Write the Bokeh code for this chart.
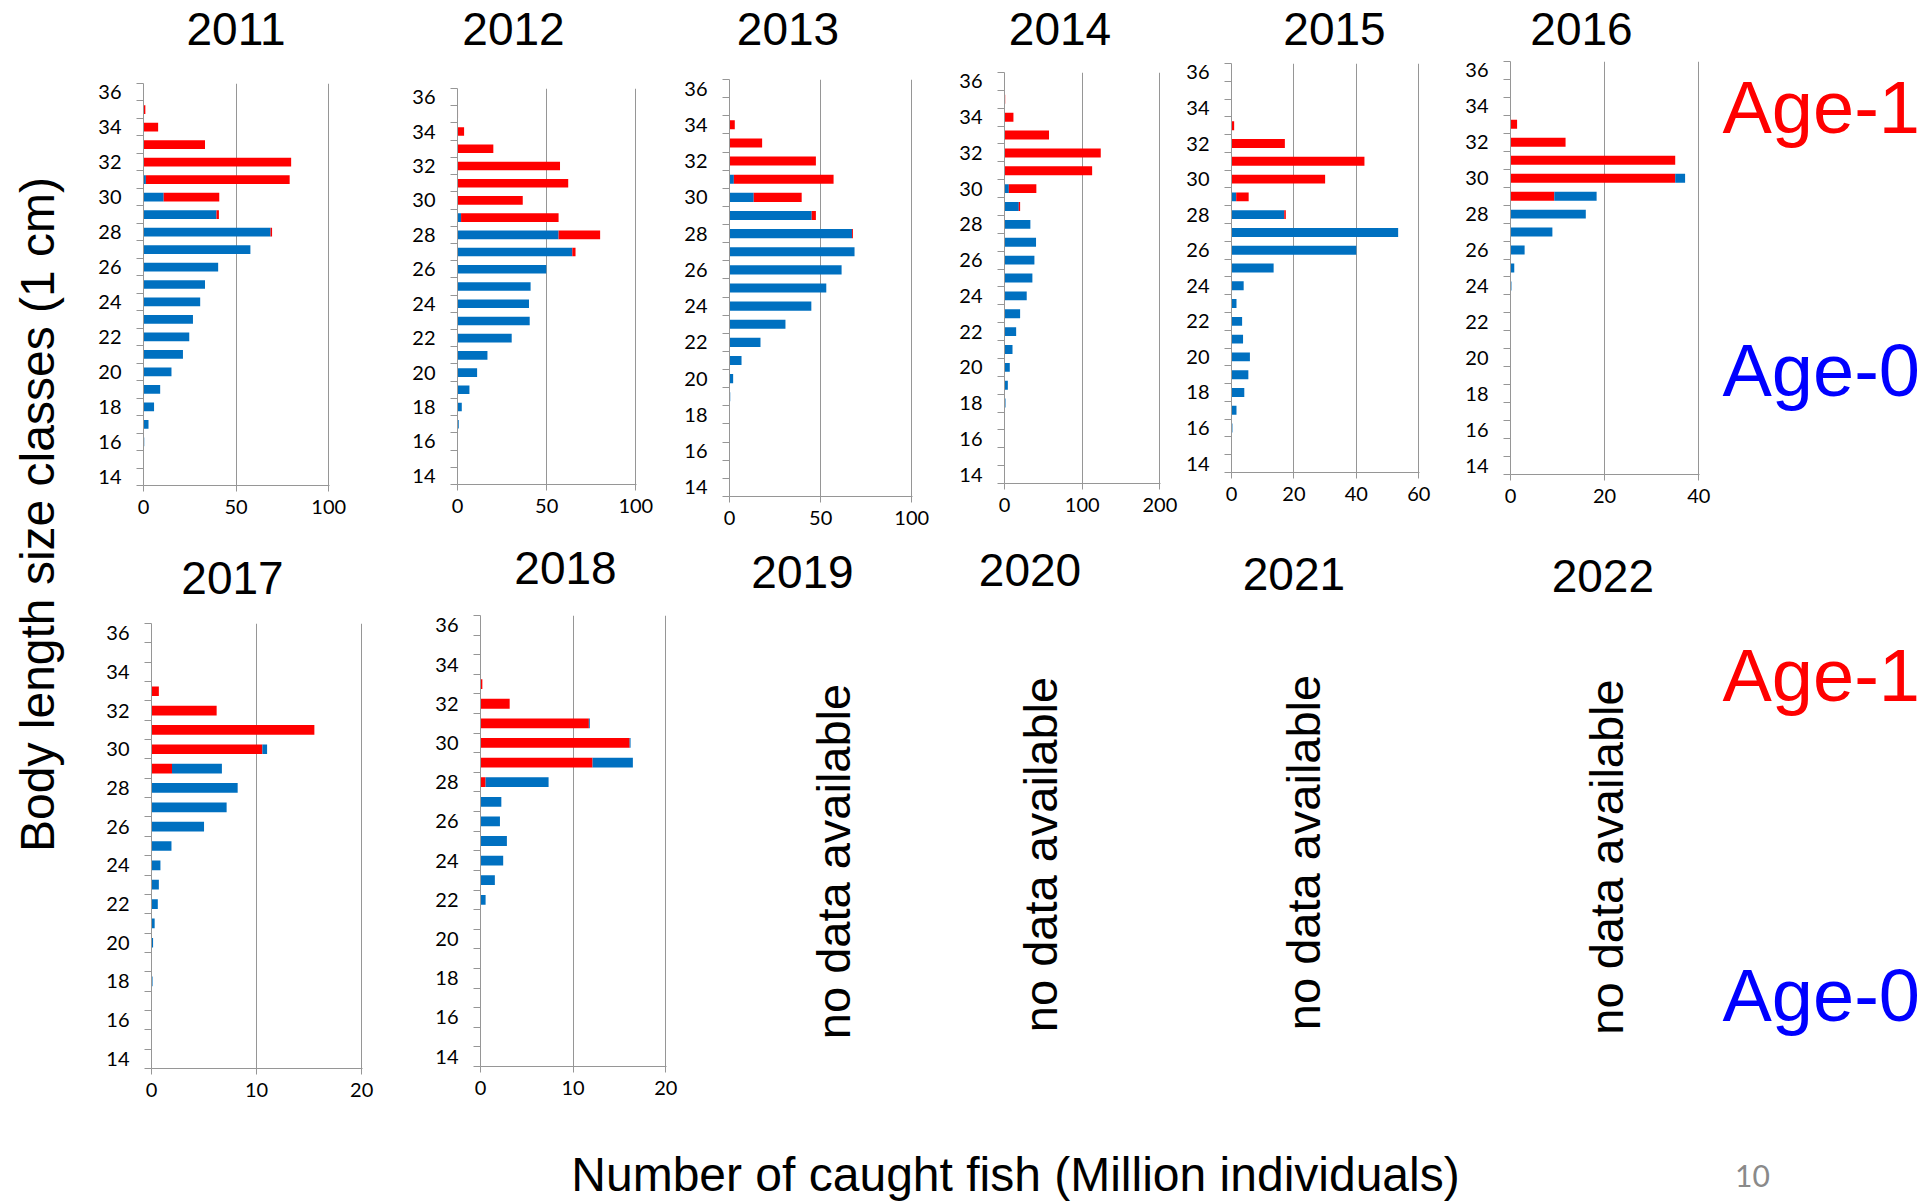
import math
from bokeh.plotting import figure
from bokeh.models import Range1d, FixedTicker, ColumnDataSource
from bokeh.layouts import row, column
from bokeh.embed import file_html
from bokeh.resources import INLINE
from bokeh.core.properties import value

# ---------------- data (million individuals per 1-cm size class 14..36) ----------------
size_classes = list(range(14, 37))
y_tick_labels = list(range(14, 37, 2))

age0_2011 = [0, 0, 0.4, 2.7, 5.7, 9.0, 15.1, 21.3, 24.7, 26.7, 30.6, 33.2, 40.3, 57.7, 68.6, 39.4, 10.9, 1.3, 0, 0, 0, 0, 0]
age1_2011 = [0, 0, 0, 0, 0, 0, 0, 0, 0, 0, 0, 0, 0, 0, 0.8, 1.3, 30.0, 77.6, 79.7, 33.2, 7.9, 1.0, 0]

age0_2012 = [0, 0, 0.2, 0.7, 2.4, 6.7, 11.0, 16.8, 30.4, 40.5, 40.1, 41.0, 49.8, 64.4, 56.7, 2.0, 0, 0, 0, 0, 0, 0, 0]
age1_2012 = [0, 0, 0, 0, 0, 0, 0, 0, 0, 0, 0, 0, 0, 1.8, 23.3, 54.7, 36.6, 62.1, 57.5, 20.1, 3.7, 0.3, 0.2]

age0_2013 = [0, 0, 0, 0, 0, 0.4, 2.0, 6.6, 17.0, 30.7, 44.9, 53.1, 61.5, 68.6, 67.2, 45.1, 13.3, 2.4, 0, 0, 0, 0, 0]
age1_2013 = [0, 0, 0, 0, 0, 0, 0, 0, 0, 0, 0, 0, 0, 0, 0.5, 2.3, 26.3, 54.7, 47.4, 17.9, 2.9, 0.2, 0]

age0_2014 = [0, 0, 0, 0, 1.3, 4.3, 6.8, 10.3, 15.0, 20.1, 28.6, 35.9, 38.5, 40.6, 33.3, 18.4, 5.6, 0, 0, 0, 0, 0, 0]
age1_2014 = [0, 0, 0, 0, 0, 0, 0, 0, 0, 0, 0, 0, 0, 0, 0, 1.7, 35.4, 112.8, 123.9, 57.3, 11.5, 0.9, 0.2]

age0_2015 = [0, 0, 0.3, 1.6, 4.1, 5.4, 5.9, 3.7, 3.4, 1.6, 3.9, 13.5, 40.0, 53.4, 16.9, 1.5, 0, 0, 0, 0, 0, 0, 0]
age1_2015 = [0, 0, 0, 0, 0, 0, 0, 0, 0, 0, 0, 0, 0, 0, 0.5, 4.0, 30.0, 42.6, 17.1, 0.85, 0, 0, 0]

age0_2016 = [0, 0, 0, 0, 0, 0, 0, 0, 0, 0, 0.2, 0.8, 3.0, 8.9, 16.0, 9.0, 2.1, 0, 0, 0, 0, 0, 0]
age1_2016 = [0, 0, 0, 0, 0, 0, 0, 0, 0, 0, 0, 0, 0, 0, 0, 9.3, 35.0, 35.0, 11.7, 1.4, 0.1, 0, 0]

age0_2017 = [0, 0, 0, 0, 0.1, 0, 0.15, 0.3, 0.6, 0.7, 0.85, 1.9, 5.0, 7.15, 8.2, 4.75, 0.45, 0, 0, 0, 0, 0, 0]
age1_2017 = [0, 0, 0, 0, 0, 0, 0, 0, 0, 0, 0, 0, 0, 0, 0, 1.95, 10.55, 15.5, 6.2, 0.7, 0, 0, 0]

age0_2018 = [0, 0, 0, 0, 0, 0, 0, 0, 0.55, 1.55, 2.45, 2.85, 2.1, 2.25, 6.8, 4.35, 0.1, 0.1, 0, 0, 0, 0, 0]
age1_2018 = [0, 0, 0, 0, 0, 0, 0, 0, 0, 0, 0, 0, 0, 0, 0.55, 12.1, 16.1, 11.7, 3.15, 0.2, 0, 0, 0]

xticks_100 = [0, 50, 100]
xticks_200 = [0, 100, 200]
xticks_60 = [0, 20, 40, 60]
xticks_40 = [0, 20, 40]
xticks_20 = [0, 10, 20]

top_years = ["2011", "2012", "2013", "2014", "2015", "2016"]
bottom_years = ["2017", "2018", "2019", "2020", "2021", "2022"]
nodata_text = "no data available"
y_title = "Body length size classes (1 cm)"
x_title = "Number of caught fish (Million individuals)"
age_labels = ["Age-1", "Age-0"]
page_number = "10"

# ---------------- styles / layout ----------------
BLUE = "#0070C0"
RED = "#FF0000"
GREY = "#969696"
ARIAL = "Liberation Sans"
TICKFONT = "Lato"

# text anchors (pixels inside each text strip, y measured from strip bottom)
top_title_x = [147.5, 425, 699.5, 971.5, 1246, 1493]
top_title_y = [28, 28, 28, 28, 28, 27.5]
bot_title_x = [144, 477, 714, 941.5, 1205.4, 1514.3]
bot_title_y = [27.5, 37.5, 33.5, 35.5, 31.5, 29.5]
nodata_x = [133, 340, 603, 906]
nodata_y = [279, 286, 288, 283.5]

# panel: (age0, age1, xmax, xticks, first stacked, L, R, T, B, frame_w, frame_h)
top_panels = [
    (age0_2011, age1_2011, 100, xticks_100, "age0", 55, 71, 27, 55, 186, 402),
    (age0_2012, age1_2012, 100, xticks_100, "age0", 57, 36, 32, 56, 179, 396),
    (age0_2013, age1_2013, 100, xticks_100, "age0", 57, 35, 23, 44, 183, 417),
    (age0_2014, age1_2014, 200, xticks_200, "age0", 57, 20, 16, 57, 156, 411),
    (age0_2015, age1_2015, 60, xticks_60, "age0", 51, 41, 7, 68, 188, 409),
    (age0_2016, age1_2016, 40, xticks_40, "age1", 50, 16, 5, 66, 189, 413),
]
bottom_panels = [
    (age0_2017, age1_2017, 20, xticks_20, "age1", 63, 56, 18, 72, 211, 445),
    (age0_2018, age1_2018, 20, xticks_20, "age1", 62, 34, 10, 74, 186, 451),
]


def no_align(p):
    if "frame_align" in p.properties():
        p.frame_align = False
    return p


def make_panel(cfg):
    a0, a1, xmax, xticks, first, L, R, T, B, FW, FH = cfg
    p = figure(frame_width=FW, frame_height=FH,
               min_border_left=L, min_border_right=R, min_border_top=T, min_border_bottom=B,
               x_range=Range1d(0, xmax * 1.004), y_range=Range1d(13.5, 36.5),
               toolbar_location=None, output_backend="svg", title=None)
    no_align(p)
    p.outline_line_color = None
    p.background_fill_color = "white"
    p.border_fill_color = "white"

    src = ColumnDataSource(dict(size=size_classes, age0=a0, age1=a1))
    order = ["age0", "age1"] if first == "age0" else ["age1", "age0"]
    cols = [BLUE if k == "age0" else RED for k in order]
    p.hbar_stack(order, y="size", height=0.5, fill_color=cols, line_color=None, source=src)

    xt = FixedTicker(ticks=xticks, minor_ticks=[])
    p.xaxis.ticker = xt
    p.xgrid.ticker = xt
    p.xgrid.grid_line_color = GREY
    p.xgrid.grid_line_width = 1
    p.ygrid.grid_line_color = None

    yt = FixedTicker(ticks=y_tick_labels,
                     minor_ticks=[c - 0.5 for c in size_classes] + [size_classes[-1] + 0.5])
    p.yaxis.ticker = yt

    for ax in (p.xaxis[0], p.yaxis[0]):
        ax.axis_line_color = GREY
        ax.axis_line_width = 1
        ax.major_tick_line_color = GREY
        ax.minor_tick_line_color = GREY
        ax.major_label_text_font = TICKFONT
        ax.major_label_text_font_size = "20px"
        ax.major_label_text_color = "black"
        ax.major_tick_in = 0
        ax.minor_tick_in = 0
    p.xaxis.major_tick_out = 6
    p.xaxis.minor_tick_out = 0
    p.xaxis.major_label_standoff = 8
    p.yaxis.major_tick_out = 0
    p.yaxis.minor_tick_out = 7
    p.yaxis.major_label_standoff = 15
    return p


def blank(w, h):
    p = figure(width=w, height=h, x_range=Range1d(0, w), y_range=Range1d(0, h),
               toolbar_location=None, output_backend="svg", min_border=0,
               x_axis_type=None, y_axis_type=None, title=None)
    no_align(p)
    p.grid.visible = False
    p.outline_line_color = None
    p.background_fill_color = "white"
    p.border_fill_color = "white"
    return p


# left axis title
left = blank(88, 1204)
left.text(x=[37], y=[690], text=[y_title], angle=math.pi / 2,
          text_font=value(ARIAL), text_font_size=value("48px"), text_color="black",
          text_align="center", text_baseline="alphabetic")

# title strips
strip_top = blank(1832, 56)
strip_top.text(x=top_title_x, y=top_title_y, text=top_years, text_font=value(ARIAL),
               text_font_size=value("46px"), text_color="black",
               text_align="center", text_baseline="alphabetic")
strip_bot = blank(1832, 65)
strip_bot.text(x=bot_title_x, y=bot_title_y, text=bottom_years, text_font=value(ARIAL),
               text_font_size=value("46px"), text_color="black",
               text_align="center", text_baseline="alphabetic")


# age labels
def age_fig(h, y1, y0):
    p = blank(205, h)
    p.text(x=[7, 7], y=[y1, y0], text=age_labels, text_color=[RED, "#0000FF"],
           text_font=value(ARIAL), text_font_size=value("74px"),
           text_align="left", text_baseline="alphabetic")
    return p


age_top = age_fig(484, 433, 170)
age_bot = age_fig(535, 465, 145)

# no-data panels
nd = blank(1015, 535)
nd.text(x=nodata_x, y=nodata_y, text=[nodata_text] * 4,
        angle=math.pi / 2, text_font=value(ARIAL), text_font_size=value("47px"),
        text_color="black", text_align="center", text_baseline="alphabetic")

# footer
foot = blank(1832, 64)
foot.text(x=[927], y=[30], text=[x_title], text_font=value(ARIAL),
          text_font_size=value("48px"), text_color="black",
          text_align="center", text_baseline="alphabetic")
foot.text(x=[1664], y=[28.5], text=[page_number], text_font=value(TICKFONT),
          text_font_size=value("30px"), text_color="#8a8a8a",
          text_align="center", text_baseline="alphabetic")

top_row = row([make_panel(c) for c in top_panels] + [age_top])
bottom_row = row([make_panel(c) for c in bottom_panels] + [nd, age_bot])
root = row(left, column(strip_top, top_row, strip_bot, bottom_row, foot))

open("out.html", "w").write(file_html(root, INLINE))
